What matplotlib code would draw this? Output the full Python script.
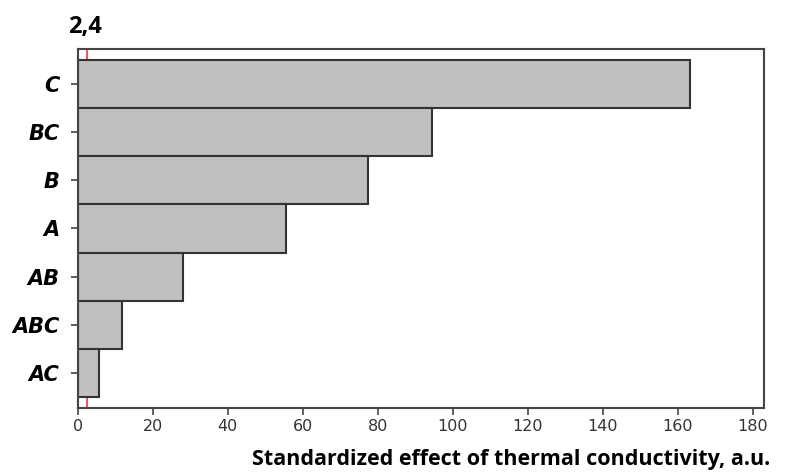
import matplotlib.pyplot as plt
import numpy as np

# Pareto chart of standardized effects
terms = ['C', 'BC', 'B', 'A', 'AB', 'ABC', 'AC']
effects = [163.2, 94.6, 77.4, 55.6, 28.2, 11.7, 5.6]
ref_value = 2.4
x_ticks = [0, 20, 40, 60, 80, 100, 120, 140, 160, 180]

fig = plt.figure(figsize=(7.87, 4.72), dpi=100)
ax = fig.add_axes([0.0987, 0.1356, 0.9708 - 0.0987, 0.8962 - 0.1356])

ypos = np.arange(len(terms))[::-1]
ax.barh(ypos, effects, height=1.0, color='#c0c0c0', edgecolor='#333333', linewidth=1.5)
ax.axvline(ref_value, color='#ff3030', linewidth=1.2, zorder=0)

ax.set_xlim(0, 183)
ax.set_ylim(-0.73, 6.73)
ax.set_xticks(x_ticks)
ax.set_xticklabels([str(t) for t in x_ticks], fontsize=11.5, color='#333333', family='DejaVu Sans')
ax.set_yticks(ypos)
ax.set_yticklabels(terms, fontsize=15, fontweight='bold', fontstyle='italic',
                   color='black', family='DejaVu Sans')
ax.tick_params(axis='y', length=5, width=1.2, color='#444444', pad=8)
ax.tick_params(axis='x', length=5, width=1.2, color='#444444', pad=3)
for s in ax.spines.values():
    s.set_color('#444444')
    s.set_linewidth(1.5)

fig.text(68 / 787, 1 - 33 / 472, '2,4', fontsize=17, fontweight='bold', family='Open Sans')
fig.text(770 / 787, 1 - 465 / 472, 'Standardized effect of thermal conductivity, a.u.',
         fontsize=15.5, fontweight='bold', family='Open Sans', ha='right', va='baseline')

fig.savefig('out.png', dpi=100)
